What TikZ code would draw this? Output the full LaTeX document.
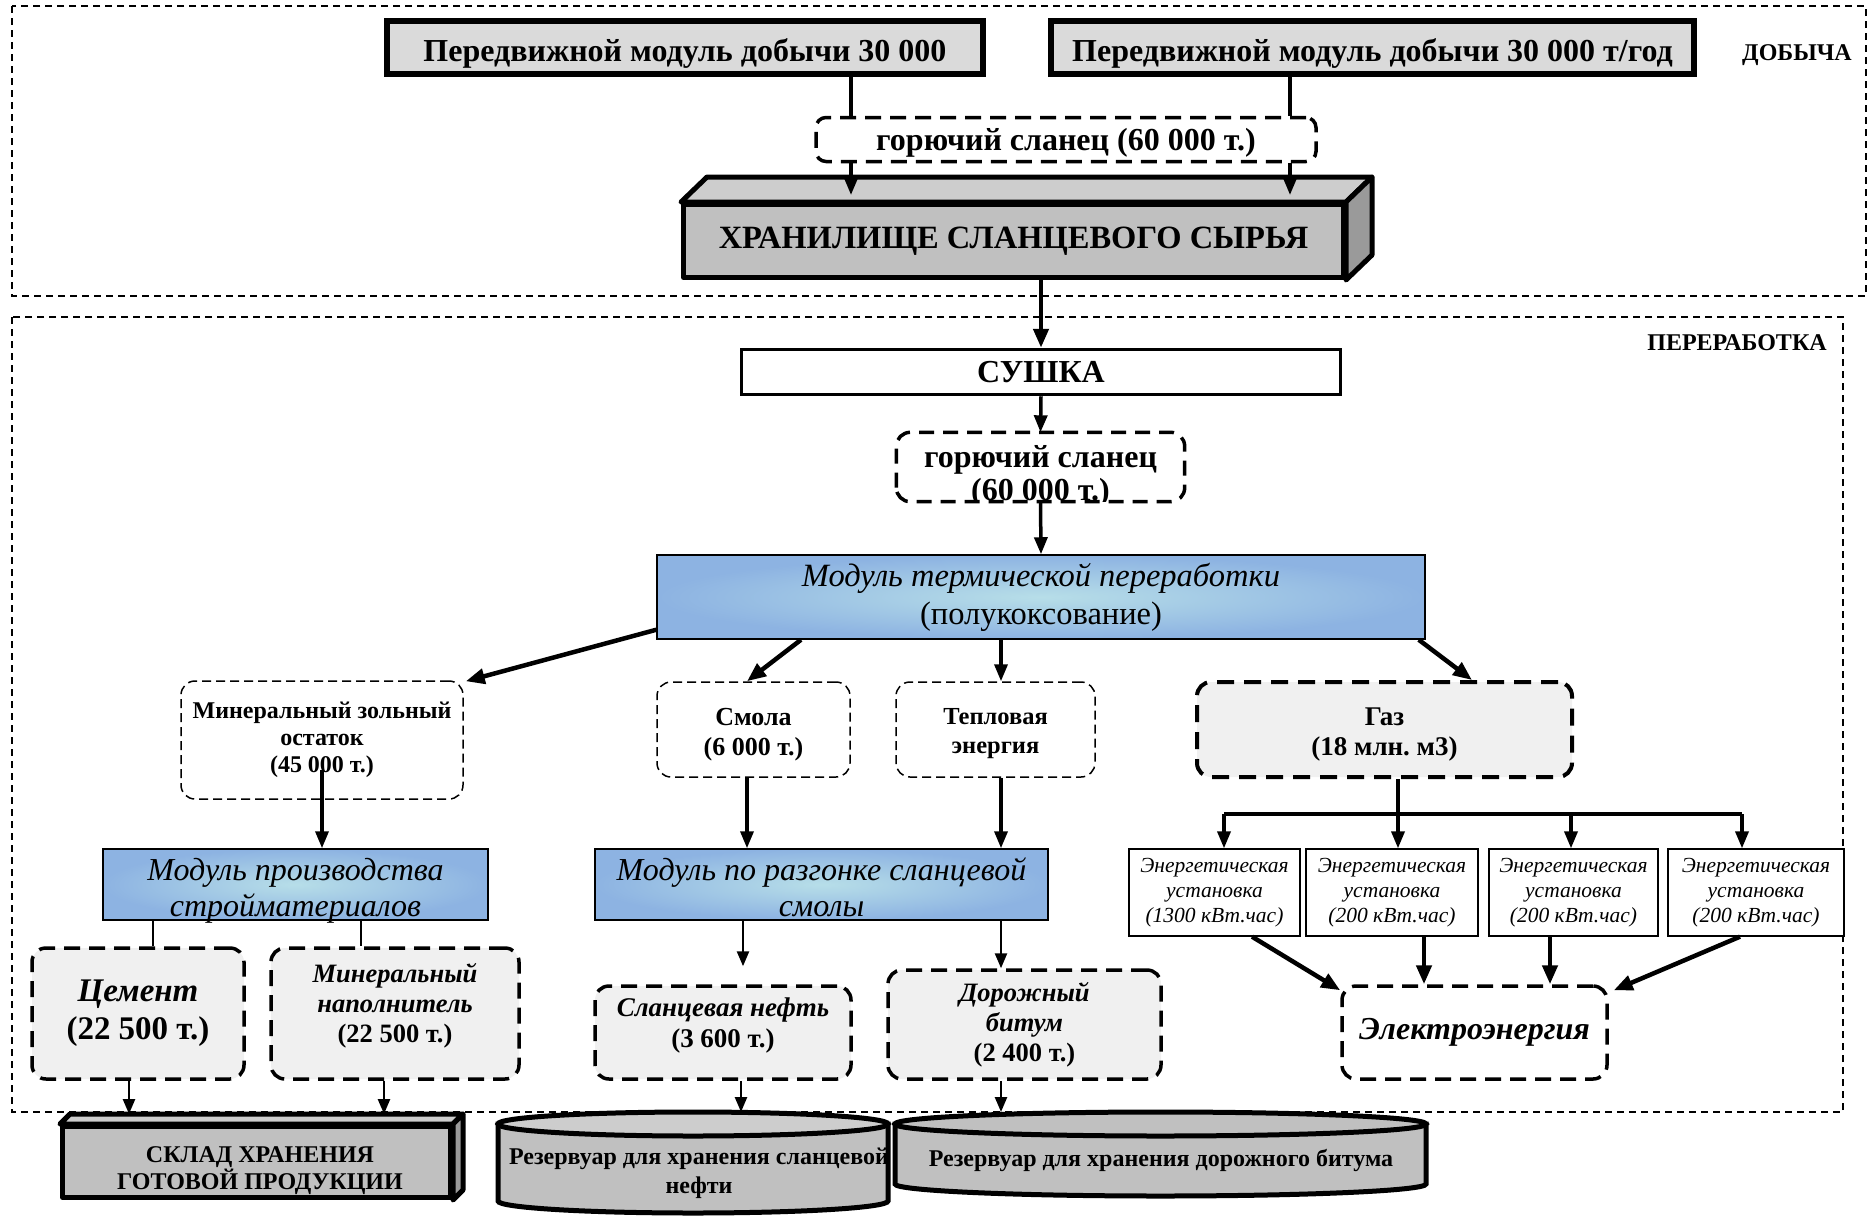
\documentclass[tikz,border=0pt]{standalone}
\usepackage{fontspec}
\setmainfont{Liberation Serif}
\usetikzlibrary{arrows.meta,calc}
\frenchspacing
\definecolor{topgray}{HTML}{DADADA}
\definecolor{midgray}{HTML}{C0C0C0}
\definecolor{lightface}{HTML}{CDCDCD}
\definecolor{darkface}{HTML}{9A9A9A}
\definecolor{palegray}{HTML}{F0F0F0}
\definecolor{blueout}{HTML}{8DB3E2}
\definecolor{bluein}{HTML}{B7DEE8}
\newcommand\fsz[2]{\fontsize{#1pt}{#2pt}\selectfont}
\tikzset{
 x=1pt,y=1pt,
 outerdash/.style={line width=1.5pt, dash pattern=on 7pt off 5pt},
 topbox/.style={draw, line width=6pt, fill=topgray, inner sep=0pt},
 thickdash/.style={draw, line width=3.5pt, dash pattern=on 16pt off 9pt, rounded corners=14pt, inner sep=0pt, align=center},
 thindash/.style={draw, line width=1.5pt, dash pattern=on 9pt off 5pt, rounded corners=14pt, fill=white, inner sep=0pt, align=center},
 modbox/.style={draw, line width=1.5pt, shading=radial, inner color=bluein, outer color=blueout, inner sep=0pt, align=center},
 enbox/.style={draw, line width=1.3pt, fill=white, inner sep=0pt, align=center, font=\fsz{21.5}{25}\itshape},
 solidbox/.style={draw, line width=5pt, fill=midgray, inner sep=0pt, align=center, line join=round},
 face/.style={draw, line width=5pt, line join=round},
 txt/.style={inner sep=0pt, align=center},
 arrbig/.style={line width=4.5pt, -{Triangle[length=19pt,width=15pt]}},
 arrmid/.style={line width=3.5pt, -{Triangle[length=17pt,width=13pt]}},
 arrsmall/.style={line width=2.5pt, -{Triangle[length=15pt,width=12pt]}},
 plainbig/.style={line width=4.5pt},
 plainsmall/.style={line width=2pt},
 lbl/.style={inner sep=0pt, font=\fsz{24}{28}\bfseries}
}
\begin{document}
\begin{tikzpicture}
\useasboundingbox (0,0) rectangle (1869,-1216);
% outer areas
\draw[outerdash] (12,-6) rectangle (1866,-296);
\draw[outerdash] (12,-317) rectangle (1843,-1112);
\node[lbl] (doblab) at (1797,-55) {ДОБЫЧА};
\node[lbl] (perlab) at (1737,-343) {ПЕРЕРАБОТКА};

% top modules
\node[topbox, minimum width=596pt, minimum height=53pt] (top1) at (685,-47.5) {};
\node[txt, font=\fsz{32}{36}\bfseries] (top1t) at (685,-53) {Передвижной модуль добычи 30 000};
\node[topbox, minimum width=643pt, minimum height=53pt] (top2) at (1372.5,-47.5) {};
\node[txt, font=\fsz{32}{36}\bfseries] (top2t) at (1372.5,-53) {Передвижной модуль добычи 30 000 т/год};

\node[thickdash, fill=white, minimum width=500pt, minimum height=44pt, rounded corners=10pt] (gs1) at (1066,-139.5) {};
\node[txt, font=\fsz{32}{36}\bfseries] (gs1t) at (1066,-143) {горючий сланец (60 000 т.)};

% storage
\node[solidbox, minimum width=660pt, minimum height=73pt, font=\fsz{32.5}{36}\bfseries] (stor) at (1013.5,-241) {ХРАНИЛИЩЕ СЛАНЦЕВОГО СЫРЬЯ};
\draw[face, fill=lightface] (stor.north west) -- ++(26,25) -- ($(stor.north east)+(26,25)$) -- (stor.north east) -- cycle;
\draw[face, fill=darkface] (stor.north east) -- ++(26,25) -- ($(stor.south east)+(26,25)$) -- (stor.south east) -- cycle;

\coordinate (cA) at (851,0);
\coordinate (cB) at (1290,0);
\draw[plainbig] (top1.south -| cA) -- (gs1.north -| cA);
\draw[plainbig] (top2.south -| cB) -- (gs1.north -| cB);
\draw[arrmid, shorten >=7pt] (gs1.south -| cA) -- (stor.north -| cA);
\draw[arrmid, shorten >=7pt] (gs1.south -| cB) -- (stor.north -| cB);

% drying
\node[draw, line width=3.5pt, fill=white, minimum width=599pt, minimum height=45pt, inner sep=0pt, font=\fsz{32}{36}\bfseries] (sushka) at (1041,-372) {СУШКА};
\draw[arrbig] (stor.south -| sushka.north) -- (sushka.north);

% shale after drying (text clipped by box)
\node[fill=white, rounded corners=14pt, minimum width=288pt, minimum height=69pt, inner sep=0pt] (gs2) at (1040.5,-467) {};
\begin{scope}
\clip[rounded corners=14pt] (gs2.south west) rectangle (gs2.north east);
\node[txt, font=\fsz{32}{33}\bfseries] (gs2t) at (1040.5,-476) {горючий сланец\\(60 000 т.)};
\end{scope}
\draw[line width=3.5pt, dash pattern=on 15pt off 9pt, rounded corners=14pt] (gs2.south west) rectangle (gs2.north east);
\draw[arrmid] (sushka.south) -- (gs2.north);

% thermal module
\node[modbox, minimum width=768pt, minimum height=84pt, font=\fsz{32.5}{38}] (thermal) at (1041,-597) {\textit{Модуль термической переработки}\\(полукоксование)};
\draw[arrmid] (gs2.south) -- (thermal.north);

% products of thermal module
\node[thindash, minimum width=282pt, minimum height=118pt, font=\fsz{24}{27}\bfseries] (mzo) at (322,-740) {Минеральный зольный\\остаток\\(45 000 т.)};
\node[thindash, minimum width=193pt, minimum height=95pt] (smola) at (753.5,-729.5) {};
\node[txt, font=\fsz{26}{30}\bfseries] (smolat) at (753.5,-734.5) {Смола\\(6 000 т.)};
\node[thindash, minimum width=199pt, minimum height=95pt] (teplo) at (995.5,-729.5) {};
\node[txt, font=\fsz{24.5}{29}\bfseries] (teplot) at (995.5,-733.5) {Тепловая\\энергия};
\node[thickdash, line width=4pt, dash pattern=on 17pt off 10pt, fill=palegray, minimum width=375pt, minimum height=95pt] (gaz) at (1384.5,-729.5) {};
\node[txt, font=\fsz{27}{30}\bfseries] (gazt) at (1384.5,-734.5) {Газ\\(18 млн. м3)};

\draw[arrbig] ($(thermal.south west)+(0,10)$) -- ($(mzo.north east)+(2,-1)$);
\draw[arrbig] ($(thermal.south)+(-240,0)$) -- ($(smola.north)+(-6.5,0)$);
\draw[arrmid] ($(thermal.south)+(-40,0)$) -- ($(teplo.north)+(5.5,0)$);
\draw[arrbig] ($(thermal.south east)+(-7,0)$) -- ($(gaz.north)+(87.5,0)$);

% building materials branch
\node[modbox, minimum width=385pt, minimum height=71pt] (mps) at (295.5,-884.5) {};
\node[txt, font=\fsz{32}{36}\itshape] (mpst) at (295.5,-890.5) {Модуль производства\\стройматериалов};
\draw[arrmid] ($(mzo.south)+(0,30)$) -- (mzo.south |- mps.north);

\node[thickdash, fill=palegray, minimum width=212pt, minimum height=131pt, font=\fsz{33}{38}\bfseries] (cement) at (138,-1013.5) {\textit{Цемент}\\(22 500 т.)};
\node[thickdash, fill=palegray, minimum width=248pt, minimum height=131pt] (mnap) at (395,-1013.5) {};
\node[txt, font=\fsz{26.5}{30}\bfseries] (mnapt) at (395,-1005.5) {\textit{Минеральный}\\\textit{наполнитель}\\(22 500 т.)};
\coordinate (cC) at (153,0);
\coordinate (cM) at (361,0);
\draw[plainsmall] (mps.south -| cC) -- (cement.north -| cC);
\draw[plainsmall] (mps.south -| cM) -- (mnap.north -| cM);

% finished goods store
\node[solidbox, minimum width=388pt, minimum height=71pt] (sklad) at (256.5,-1162) {};
\node[txt, font=\fsz{24}{27}\bfseries] (skladt) at (260,-1171) {СКЛАД ХРАНЕНИЯ\\ГОТОВОЙ ПРОДУКЦИИ};
\draw[face, fill=lightface] (sklad.north west) -- ++(10,10) -- ($(sklad.north east)+(10,10)$) -- (sklad.north east) -- cycle;
\draw[face, fill=darkface] (sklad.north east) -- ++(10,10) -- ($(sklad.south east)+(10,10)$) -- (sklad.south east) -- cycle;
\coordinate (cK1) at (129,-1114);
\coordinate (cK2) at (384,-1114);
\draw[arrsmall] (cK1 |- cement.south) -- (cK1);
\draw[arrsmall] (cK2 |- mnap.south) -- (cK2);

% tar distillation branch
\node[modbox, minimum width=453pt, minimum height=71pt] (mrs) at (821.5,-884.5) {};
\node[txt, font=\fsz{32}{36}\itshape] (mrst) at (821.5,-887.5) {Модуль по разгонке сланцевой\\смолы};
\coordinate (cS) at (747,0);
\draw[arrmid] (smola.south -| cS) -- (mrs.north -| cS);
\draw[arrmid] ($(teplo.south)+(5.5,0)$) -- ($(teplo.south |- mrs.north)+(5.5,0)$);

\node[thickdash, fill=palegray, minimum width=256pt, minimum height=93pt] (snef) at (723,-1032.5) {};
\node[txt, font=\fsz{27}{31}\bfseries] (sneft) at (723,-1025.5) {\textit{Сланцевая нефть}\\(3 600 т.)};
\node[thickdash, fill=palegray, minimum width=273pt, minimum height=109pt, font=\fsz{26.5}{30}\bfseries] (dbit) at (1024.5,-1024.5) {\textit{Дорожный}\\\textit{битум}\\(2 400 т.)};
\coordinate (cN) at (743,0);
\coordinate (cD) at (1001,0);
\draw[arrsmall, shorten >=18pt] (mrs.south -| cN) -- (snef.north -| cN);
\draw[arrsmall] (mrs.south -| cD) -- (dbit.north -| cD);

% tanks
\draw[line width=5pt, fill=midgray] (498,-1124) -- (498,-1201) arc[start angle=180, end angle=360, x radius=195, y radius=12] -- (888,-1124) -- cycle;
\draw[line width=5pt, fill=lightface] (693,-1124) ellipse[x radius=195, y radius=12];
\node[txt, font=\fsz{24}{29}\bfseries] (tank1) at (699,-1173.5) {Резервуар для хранения сланцевой\\нефти};
\draw[line width=5pt, fill=midgray] (895,-1124) -- (895,-1184) arc[start angle=180, end angle=360, x radius=265.5, y radius=12] -- (1426,-1124) -- cycle;
\draw[line width=5pt, fill=midgray] (1160.5,-1124) ellipse[x radius=265.5, y radius=12];
\node[txt, font=\fsz{24}{29}\bfseries] (tank2) at (1161,-1160) {Резервуар для хранения дорожного битума};
\coordinate (cT1) at (741,-1112);
\coordinate (cT2) at (1001,-1112);
\draw[arrsmall] (cT1 |- snef.south) -- (cT1);
\draw[arrsmall] (cT2 |- dbit.south) -- (cT2);

% energy branch
\node[enbox, minimum width=171pt, minimum height=87pt] (en1) at (1214.5,-892.5) {Энергетическая\\установка\\(1300 кВт.час)};
\node[enbox, minimum width=172pt, minimum height=87pt] (en2) at (1392,-892.5) {Энергетическая\\установка\\(200 кВт.час)};
\node[enbox, minimum width=169pt, minimum height=87pt] (en3) at (1573.5,-892.5) {Энергетическая\\установка\\(200 кВт.час)};
\node[enbox, minimum width=176pt, minimum height=87pt] (en4) at (1756,-892.5) {Энергетическая\\установка\\(200 кВт.час)};
\coordinate (busL) at (1224,-814);
\coordinate (busG) at (1398,-814);
\coordinate (bus3) at (1571,-814);
\coordinate (busR) at (1742,-814);
\draw[plainbig] (busL) -- (busR);
\draw[arrmid] (busG |- gaz.south) -- (busG |- en2.north);
\draw[arrmid] (busL) -- (busL |- en1.north);
\draw[arrmid] (bus3) -- (bus3 |- en3.north);
\draw[arrmid] (busR) -- (busR |- en4.north);

\node[thickdash, fill=white, minimum width=265pt, minimum height=93pt, font=\fsz{32}{36}\bfseries\itshape] (elec) at (1474.5,-1032.5) {Электроэнергия};
\draw[arrbig] ($(en1.south)+(37.5,0)$) -- ($(elec.north west)+(0,-6)$);
\draw[arrbig] ($(en2.south)+(32,0)$) -- ($(en2.south |- elec.north)+(32,0)$);
\draw[arrbig] ($(en3.south)+(-23.5,0)$) -- ($(en3.south |- elec.north)+(-23.5,0)$);
\draw[arrbig] ($(en4.south)+(-16,0)$) -- ($(elec.north east)+(5,-6)$);
\end{tikzpicture}
\end{document}
